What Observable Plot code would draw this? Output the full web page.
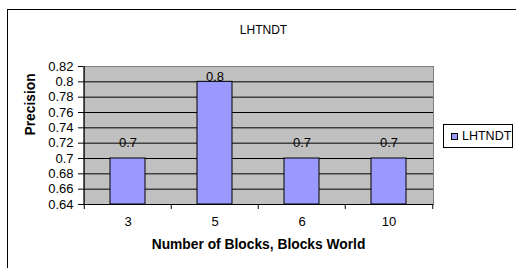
<!DOCTYPE html>
<html>
<head>
<meta charset="utf-8">
<script src="https://cdn.jsdelivr.net/npm/d3@7"></script>
<script src="https://cdn.jsdelivr.net/npm/@observablehq/plot@0.6"></script>
<style>
  html, body { margin: 0; padding: 0; background: #fff; overflow: hidden; }
  #wrap { position: relative; width: 516px; height: 268px; overflow: hidden; font-family: "Liberation Sans", Arial, sans-serif; }
  #frame { position: absolute; left: 7px; top: 9px; width: 600px; height: 400px; border: 1px solid #000; box-sizing: border-box; pointer-events: none; }
  #legend { position: absolute; left: 443px; top: 124px; width: 70px; height: 24px; border: 1px solid #000; box-sizing: border-box; background: #fff; font-size: 12.5px; }
  #legend .sw { position: absolute; left: 7px; top: 8px; width: 7px; height: 7px; border: 1px solid #000; box-sizing: border-box; background: #9999ff; }
  #legend .lb { position: absolute; left: 18px; top: 4px; line-height: 14px; }
  svg { position: absolute; left: 0; top: 0; }
</style>
</head>
<body>
<div id="wrap"><div id="frame"></div></div>
<script>
const categories = ["3", "5", "6", "10"];
const values = [0.7, 0.8, 0.7, 0.7];
const yTicks = [0.64, 0.66, 0.68, 0.7, 0.72, 0.74, 0.76, 0.78, 0.8, 0.82];
const gridTicks = [0.66, 0.68, 0.7, 0.72, 0.74, 0.76, 0.78, 0.8];
const seriesName = "LHTNDT";
const chartTitle = "LHTNDT";
const xTitle = "Number of Blocks, Blocks World";
const yTitle = "Precision";

const data = categories.map((c, i) => ({cat: c, value: values[i]}));
const maxV = d3.max(values);
const W = 516, H = 268, ML = 83, MR = 83, MT = 66, MB = 64;
const step = (W - ML - MR) / categories.length;
const fmt = d => String(+d.toFixed(2));

const chart = Plot.plot({
  width: W, height: H,
  marginLeft: ML, marginRight: MR, marginTop: MT, marginBottom: MB,
  style: {fontFamily: '"Liberation Sans", Arial, sans-serif', fontSize: "13px", color: "#000", background: "transparent"},
  x: {domain: categories, type: "band", paddingInner: 0.6, paddingOuter: 0.3},
  y: {domain: [yTicks[0], yTicks[yTicks.length - 1]]},
  marks: [
    Plot.frame({fill: "#c0c0c0", stroke: "#808080"}),
    Plot.ruleY(gridTicks, {stroke: "#000", strokeWidth: 1}),
    Plot.barY(data, {x: "cat", y1: () => yTicks[0], y2: "value", fill: "#9999ff", stroke: "#000", strokeWidth: 1}),
    Plot.ruleY([yTicks[0]], {stroke: "#000"}),
    Plot.ruleX([categories[0]], {stroke: "#000", dx: -step / 2}),
    Plot.axisY({ticks: yTicks, tickFormat: fmt, tickSize: 5, tickPadding: 5, label: null, fontSize: 13}),
    Plot.axisX({tickSize: 5, dx: -step / 2, text: null, label: null}),
    Plot.axisX({ticks: [categories[categories.length - 1]], tickSize: 5, dx: step / 2, text: null, label: null}),
    Plot.axisX({tickSize: 0, tickPadding: 12, label: null, fontSize: 13}),
    Plot.text(data.filter(d => d.value < maxV), {x: "cat", y: "value", text: d => fmt(d.value), dy: -16, fontSize: 13}),
    Plot.text(data.filter(d => d.value >= maxV), {x: "cat", y: "value", text: d => fmt(d.value), dy: -5, fontSize: 13}),
    Plot.text([chartTitle], {frameAnchor: "top", dx: 5, dy: -41, fontSize: 12}),
    Plot.text([xTitle], {frameAnchor: "bottom", dy: 44, fontSize: 13.8, fontWeight: "bold"}),
    Plot.text([yTitle], {frameAnchor: "left", dx: -53, rotate: -90, fontSize: 13.8, fontWeight: "bold"})
  ]
});

const wrap = document.getElementById("wrap");
wrap.insertBefore(chart, wrap.firstChild);
const lg = document.createElement("div");
lg.id = "legend";
lg.innerHTML = '<div class="sw"></div><div class="lb"></div>';
lg.querySelector(".lb").textContent = seriesName;
wrap.appendChild(lg);
</script>
</body>
</html>
